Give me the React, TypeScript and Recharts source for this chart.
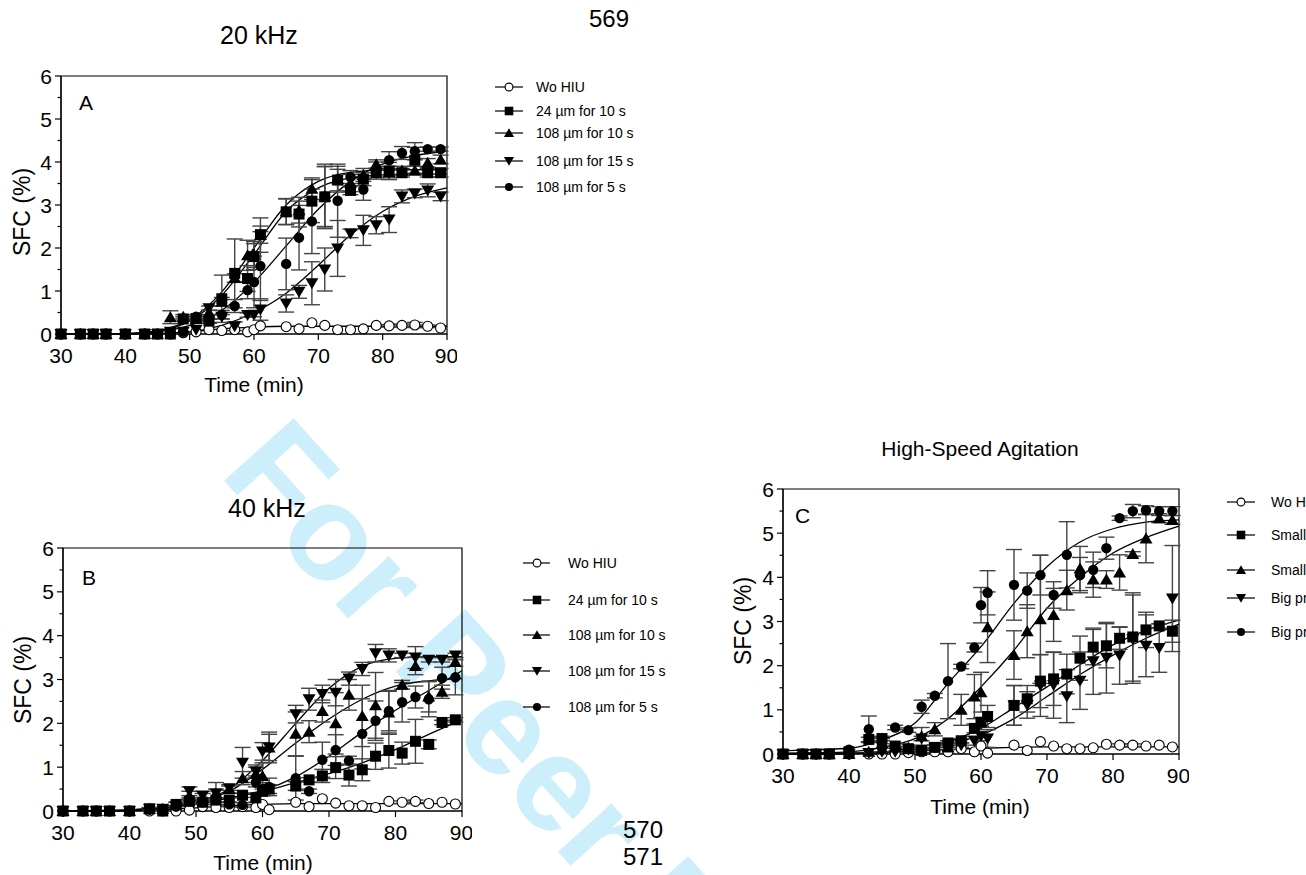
import React from 'react';
import { ComposedChart, XAxis, YAxis, Scatter, Line, ErrorBar, ReferenceArea } from 'recharts';

const FONT = '"Liberation Sans", Arial, sans-serif';

// --- sampling times (min) ---
const TIMES = [30, 33, 35, 37, 40, 43, 45, 47, 49, 51, 53, 55, 57, 59, 60, 61, 65, 67, 69, 71, 73, 75, 77, 79, 81, 83, 85, 87, 89];
const FIT_T = [30, 35, 40, 45, 50, 55, 60, 65, 70, 75, 80, 85, 90];
const X_TICKS = [30, 40, 50, 60, 70, 80, 90];
const Y_TICKS = [0, 0.5, 1, 1.5, 2, 2.5, 3, 3.5, 4, 4.5, 5, 5.5, 6];

const LABELS_HIU = ['Wo HIU', '24 µm for 10 s', '108 µm for 10 s', '108 µm for 15 s', '108 µm for 5 s'];
const LABELS_AGIT = ['Wo HIU', 'Small propeller A', 'Small propeller B', 'Big propeller A', 'Big propeller B'];

// --- Panel A: 20 kHz ---
const A_WO = [0, 0, 0, 0, 0, 0, 0, 0, 0.03, 0.05, 0.1, 0.08, 0.1, 0.05, 0.1, 0.19, 0.17, 0.12, 0.26, 0.2, 0.1, 0.1, 0.12, 0.2, 0.19, 0.2, 0.21, 0.18, 0.14];
const A_SQ = [0, 0, 0, 0, 0, 0, 0, 0, 0.35, 0.36, 0.3, 0.82, 1.41, 1.29, 1.8, 2.31, 2.84, 2.79, 3.09, 3.19, 3.58, 3.34, 3.6, 3.75, 3.79, 3.75, 4.04, 3.75, 3.75];
const A_UP = [0, 0, 0, 0, 0, 0, 0, 0.39, 0.4, 0.35, 0.5, 0.75, 1.3, 1.83, 1.85, 2.3, 2.85, 2.88, 3.38, 3.2, 3.6, 3.51, 3.7, 3.95, 3.75, 3.8, 3.8, 3.98, 4.06];
const A_DN = [0, 0, 0, 0, 0, 0, 0, 0.05, 0.05, 0.1, 0.6, 0.4, 0.18, 0.44, 0.45, 0.57, 0.71, 0.98, 1.18, 1.5, 1.99, 2.34, 2.41, 2.53, 2.66, 3.2, 3.27, 3.34, 3.2];
const A_CI = [0, 0, 0, 0, 0, 0, 0, 0, 0.05, 0.4, 0.3, 0.45, 0.65, 1.02, 1.21, 1.58, 1.63, 2.24, 2.62, 3.2, 3.1, 3.65, 3.36, 3.8, 4.04, 4.21, 4.25, 4.3, 4.3];
const A_WO_E = [0, 0, 0, 0, 0, 0, 0, 0, 0, 0, 0, 0, 0, 0, 0, 0, 0, 0, 0, 0, 0, 0, 0, 0, 0.03, 0.03, 0.06, 0.03, 0];
const A_SQ_E = [0, 0, 0, 0, 0, 0, 0, 0, 0.05, 0.05, 0.05, 0.55, 0.8, 0.3, 0.3, 0.2, 0.3, 0.3, 0.5, 0.7, 0.25, 0.1, 0.15, 0.1, 0.2, 0.1, 0.3, 0.1, 0.1];
const A_UP_E = [0, 0, 0, 0, 0, 0, 0, 0.15, 0.05, 0.05, 0.05, 0.1, 0.1, 0.35, 0.3, 0.4, 0.3, 0.3, 0.25, 0.7, 0.3, 0.2, 0.15, 0.1, 0.15, 0.1, 0.1, 0.1, 0.1];
const A_DN_E = [0, 0, 0, 0, 0, 0, 0, 0, 0, 0, 0.05, 0.05, 0.1, 0.05, 0.05, 0.25, 0.2, 0.15, 0.5, 0.5, 0.65, 0.1, 0.35, 0.2, 0.3, 0.15, 0.1, 0.15, 0.1];
const A_CI_E = [0, 0, 0, 0, 0, 0, 0, 0, 0, 0.05, 0.05, 0.1, 0.15, 0.2, 0.6, 0.8, 0.6, 0.75, 0.75, 0.75, 0.85, 0.15, 0.25, 0.2, 0.2, 0.15, 0.2, 0.05, 0.05];
const A_FIT_WO = [0, 0, 0, 0.01, 0.05, 0.12, 0.16, 0.18, 0.18, 0.18, 0.18, 0.18, 0.18];
const A_FIT_SQ = [0, 0, 0.01, 0.07, 0.3, 0.9, 1.85, 2.85, 3.4, 3.63, 3.7, 3.72, 3.72];
const A_FIT_UP = [0, 0, 0.01, 0.08, 0.33, 0.98, 2.0, 3.0, 3.55, 3.76, 3.81, 3.82, 3.82];
const A_FIT_DN = [0, 0, 0, 0.01, 0.05, 0.2, 0.5, 0.95, 1.6, 2.3, 2.85, 3.2, 3.4];
const A_FIT_CI = [0, 0, 0.01, 0.05, 0.2, 0.55, 1.2, 2.05, 2.9, 3.55, 3.95, 4.15, 4.25];

// --- Panel B: 40 kHz ---
const B_WO = [0, 0, 0, 0, 0, 0, 0, 0, 0.02, 0.1, 0.08, 0.08, 0.1, 0.08, 0.15, 0.03, 0.2, 0.1, 0.28, 0.18, 0.12, 0.12, 0.08, 0.22, 0.2, 0.22, 0.17, 0.2, 0.16];
const B_SQ = [0, 0, 0, 0, 0, 0.05, 0, 0.15, 0.22, 0.2, 0.25, 0.25, 0.36, 0.3, 0.45, 0.5, 0.57, 0.71, 0.8, 0.99, 0.82, 0.94, 1.25, 1.38, 1.32, 1.59, 1.52, 2.02, 2.08];
const B_UP = [0, 0, 0, 0, 0, 0.05, 0.05, 0.15, 0.35, 0.3, 0.4, 0.5, 0.75, 0.85, 0.8, 1.45, 1.76, 1.81, 2.28, 2.0, 2.65, 2.17, 2.41, 2.25, 2.88, 3.31, 2.61, 2.72, 3.4];
const B_DN = [0, 0, 0, 0, 0, 0.05, 0.05, 0.1, 0.45, 0.35, 0.4, 0.52, 1.1, 0.9, 1.36, 1.45, 2.21, 2.55, 2.67, 2.7, 3.02, 3.24, 3.6, 3.55, 3.55, 3.5, 3.45, 3.45, 3.55];
const B_CI = [0, 0, 0, 0, 0, 0.03, 0.03, 0.1, 0.25, 0.2, 0.25, 0.15, 0.14, 0.65, 0.5, 0.55, 0.75, 0.45, 1.17, 1.39, 1.15, 1.76, 2.06, 2.28, 2.48, 2.6, 2.55, 3.03, 3.05];
const B_WO_E = [0, 0, 0, 0, 0, 0, 0, 0, 0, 0, 0, 0, 0, 0, 0, 0, 0, 0, 0, 0, 0, 0, 0, 0, 0.03, 0.03, 0, 0, 0];
const B_SQ_E = [0, 0, 0, 0, 0, 0.03, 0, 0.05, 0.05, 0.05, 0.05, 0.05, 0.05, 0.1, 0.1, 0.1, 0.1, 0.05, 0.15, 0.25, 0.25, 0.25, 0.3, 0.4, 0.25, 0.5, 0.1, 0.05, 0.05];
const B_UP_E = [0, 0, 0, 0, 0, 0, 0, 0, 0.1, 0.1, 0.1, 0.1, 0.15, 0.2, 0.3, 0.3, 0.5, 0.25, 0.25, 0.7, 0.35, 0.7, 0.75, 0.5, 0.1, 0.2, 0.35, 0.15, 0.1];
const B_DN_E = [0, 0, 0, 0, 0, 0, 0, 0, 0.1, 0.1, 0.25, 0.05, 0.35, 0.1, 0.2, 0.35, 0.2, 0.25, 0.2, 0.3, 0.15, 0.15, 0.2, 0.15, 0.05, 0.25, 0.05, 0.05, 0.05];
const B_CI_E = [0, 0, 0, 0, 0, 0, 0, 0, 0.05, 0.05, 0.05, 0.05, 0.05, 0.1, 0.15, 0.2, 0.5, 0.05, 0.4, 0.35, 0.1, 0.8, 0.45, 0.45, 0.45, 0.25, 0.4, 0.25, 0.4];
const B_FIT_WO = [0, 0, 0.01, 0.03, 0.07, 0.12, 0.15, 0.17, 0.17, 0.17, 0.17, 0.17, 0.17];
const B_FIT_SQ = [0, 0.01, 0.03, 0.1, 0.2, 0.3, 0.45, 0.65, 0.85, 1.1, 1.4, 1.75, 2.08];
const B_FIT_UP = [0, 0.01, 0.02, 0.07, 0.2, 0.45, 0.95, 1.55, 2.1, 2.55, 2.85, 2.97, 3.02];
const B_FIT_DN = [0, 0, 0.01, 0.06, 0.2, 0.5, 1.15, 2.0, 2.8, 3.3, 3.48, 3.52, 3.52];
const B_FIT_CI = [0, 0, 0.01, 0.05, 0.15, 0.3, 0.47, 0.78, 1.25, 1.8, 2.3, 2.75, 3.2];

// --- Panel C: high-speed agitation ---
const C_WO = [0, 0, 0, 0, 0, 0, 0, 0, 0.03, 0.05, 0.05, 0.05, 0.12, 0.05, 0.18, 0.02, 0.2, 0.08, 0.28, 0.18, 0.12, 0.12, 0.14, 0.22, 0.2, 0.2, 0.18, 0.2, 0.16];
const C_SQ = [0, 0, 0, 0, 0.05, 0.33, 0.35, 0.18, 0.12, 0.08, 0.15, 0.25, 0.3, 0.58, 0.72, 0.85, 1.1, 1.25, 1.65, 1.7, 1.81, 2.17, 2.42, 2.45, 2.62, 2.65, 2.81, 2.9, 2.78];
const C_UP = [0, 0, 0, 0, 0, 0.05, 0.1, 0.15, 0.15, 0.4, 0.56, 0.15, 1.0, 1.3, 1.4, 2.87, 2.24, 2.78, 3.05, 3.15, 3.71, 4.2, 3.95, 3.95, 4.11, 4.53, 4.88, 5.34, 5.3];
const C_DN = [0, 0, 0, 0, 0, 0.02, 0.05, 0.05, 0.1, 0.35, 0.15, 0.2, 0.2, 0.3, 0.4, 0.35, 1.1, 1.11, 1.55, 1.56, 1.31, 1.66, 2.1, 2.18, 2.23, 2.6, 2.45, 2.4, 3.52];
const C_CI = [0, 0, 0, 0, 0.1, 0.56, 0.2, 0.6, 0.54, 1.07, 1.32, 1.65, 1.98, 2.41, 3.37, 3.65, 3.83, 3.7, 4.05, 3.6, 4.51, 4.05, 4.17, 4.66, 5.34, 5.5, 5.52, 5.5, 5.5];
const C_WO_E = [0, 0, 0, 0, 0, 0, 0, 0, 0, 0, 0, 0, 0, 0, 0, 0, 0, 0, 0, 0, 0, 0, 0, 0, 0.03, 0.03, 0, 0, 0];
const C_SQ_E = [0, 0, 0, 0, 0, 0.05, 0.05, 0.05, 0.05, 0.05, 0.05, 0.05, 0.05, 0.1, 0.1, 0.25, 0.45, 0.3, 0.6, 0.6, 0.45, 0.5, 0.4, 0.5, 0.25, 1.0, 0.4, 0.05, 0.25];
const C_UP_E = [0, 0, 0, 0, 0, 0, 0, 0, 0, 0.2, 0.15, 0.05, 0.35, 0.5, 0.45, 0.8, 0.55, 0.6, 1.45, 0.6, 0.45, 0.5, 0.4, 0.2, 0.4, 0.05, 0.55, 0.1, 0.1];
const C_DN_E = [0, 0, 0, 0, 0, 0, 0, 0, 0, 0.05, 0.05, 0.05, 0.05, 0.1, 0.1, 0.2, 0.45, 0.3, 0.7, 0.75, 0.6, 0.65, 0.75, 0.8, 0.65, 1.0, 0.7, 0.55, 1.2];
const C_CI_E = [0, 0, 0, 0, 0, 0.3, 0.15, 0.05, 0.05, 0.15, 0.05, 0.85, 0.05, 0.1, 0.4, 0.5, 0.8, 0.4, 0.45, 0.3, 0.75, 0.4, 0.4, 0.25, 0.05, 0.15, 0.1, 0.1, 0.1];
const C_FIT_WO = [0, 0, 0.01, 0.03, 0.06, 0.1, 0.13, 0.15, 0.16, 0.16, 0.16, 0.16, 0.16];
const C_FIT_SQ = [0, 0.01, 0.02, 0.05, 0.15, 0.28, 0.58, 1.05, 1.52, 2.02, 2.47, 2.8, 3.03];
const C_FIT_UP = [0.02, 0.03, 0.05, 0.15, 0.35, 0.8, 1.52, 2.35, 3.3, 4.0, 4.55, 4.9, 5.16];
const C_FIT_DN = [0, 0, 0.01, 0.03, 0.1, 0.22, 0.43, 0.8, 1.3, 1.8, 2.24, 2.62, 2.94];
const C_FIT_CI = [0.07, 0.1, 0.13, 0.32, 0.7, 1.6, 2.43, 3.41, 4.24, 4.8, 5.1, 5.25, 5.3];

const KINDS = ['open', 'square', 'up', 'down', 'dot'];

const pts = (vals: number[], errs: number[]) => TIMES.map((x, i) => ({ x, y: vals[i], err: errs[i] }));
const fitPts = (vals: number[]) => FIT_T.map((x, i) => ({ x, y: vals[i] }));

// --- Markers ---
function Marker({ cx, cy, kind, s = 1 }: { cx: number; cy: number; kind: string; s?: number }) {
  if (cx == null || cy == null) return null;
  switch (kind) {
    case 'open':
      return <circle cx={cx} cy={cy} r={5 * s} fill="#fff" stroke="#000" strokeWidth={1.1} />;
    case 'square':
      return <rect x={cx - 5.5 * s} y={cy - 5.5 * s} width={11 * s} height={11 * s} fill="#000" />;
    case 'up':
      return <polygon points={`${cx},${cy - 6 * s} ${cx + 6.5 * s},${cy + 5 * s} ${cx - 6.5 * s},${cy + 5 * s}`} fill="#000" />;
    case 'down':
      return <polygon points={`${cx},${cy + 6 * s} ${cx + 6.5 * s},${cy - 5 * s} ${cx - 6.5 * s},${cy - 5 * s}`} fill="#000" />;
    default:
      return <circle cx={cx} cy={cy} r={5.2 * s} fill="#000" />;
  }
}

function YTick({ x, y, payload }: any) {
  const major = Number.isInteger(payload.value);
  const ax = x + 9;
  return (
    <g>
      <line x1={ax - (major ? 6 : 3.5)} x2={ax} y1={y} y2={y} stroke="#000" strokeWidth={1.2} />
      {major && (
        <text x={x} y={y} dy="0.36em" textAnchor="end" fontSize={21} fontFamily={FONT} fill="#000">
          {payload.value}
        </text>
      )}
    </g>
  );
}

interface PanelProps {
  left: number;
  top: number;
  w: number;
  h: number;
  series: { x: number; y: number; err: number }[][];
  fits: { x: number; y: number }[][];
}

function Panel({ left, top, w, h, series, fits }: PanelProps) {
  const ML = 60, MT = 10, MR = 10, MB = 40;
  return (
    <div style={{ position: 'absolute', left: left - ML, top: top - MT }}>
      <ComposedChart width={w + ML + MR} height={h + MT + MB} margin={{ top: MT, right: MR, bottom: 0, left: 0 }}>
        <XAxis
          type="number"
          dataKey="x"
          domain={[30, 90]}
          ticks={X_TICKS}
          height={MB}
          tickSize={6}
          tickMargin={8}
          stroke="#000"
          strokeWidth={1.2}
          tick={{ fill: '#000', fontSize: 21, fontFamily: FONT }}
        />
        <YAxis
          type="number"
          dataKey="y"
          domain={[0, 6]}
          ticks={Y_TICKS}
          width={ML}
          tickSize={6}
          tickMargin={3}
          tickLine={false}
          tick={YTick}
          stroke="#000"
          strokeWidth={1.2}
          interval={0}
        />
        <ReferenceArea x1={30} x2={90} y1={0} y2={6} fill="none" stroke="#000" strokeWidth={1.2} />
        {fits.map((f, i) => (
          <Line key={`fit-${i}`} data={f} dataKey="y" type="monotone" stroke="#000" strokeWidth={1.3} dot={false} isAnimationActive={false} />
        ))}
        {series.map((s, i) => (
          <Scatter
            key={`s-${i}`}
            data={s}
            isAnimationActive={false}
            shape={(p: any) => <Marker cx={p.cx} cy={p.cy} kind={KINDS[i]} />}
          >
            <ErrorBar dataKey="err" direction="y" width={8} stroke="#444" strokeWidth={1.4} />
          </Scatter>
        ))}
      </ComposedChart>
    </div>
  );
}

function Txt({ x, y, size, children, center = false, rotate = false, family = FONT }: any) {
  const tf = rotate ? 'translate(-50%, -50%) rotate(-90deg)' : center ? 'translate(-50%, -50%)' : 'translateY(-50%)';
  return (
    <div
      style={{
        position: 'absolute',
        left: x,
        top: y,
        fontSize: size,
        lineHeight: `${size}px`,
        fontFamily: family,
        whiteSpace: 'nowrap',
        color: '#000',
        transform: tf,
      }}
    >
      {children}
    </div>
  );
}

function LegendBox({ x0, mx, x1, tx, rows, labels }: { x0: number; mx: number; x1: number; tx: number; rows: number[]; labels: string[] }) {
  return (
    <>
      {rows.map((ry, i) => (
        <React.Fragment key={i}>
          <svg style={{ position: 'absolute', left: x0, top: ry - 8 }} width={x1 - x0} height={16}>
            <line x1={0} x2={x1 - x0} y1={8} y2={8} stroke="#000" strokeWidth={1.2} />
            <Marker cx={mx - x0} cy={8} kind={KINDS[i]} s={0.78} />
          </svg>
          <Txt x={tx} y={ry} size={14}>{labels[i]}</Txt>
        </React.Fragment>
      ))}
    </>
  );
}

export default function App() {
  const seriesA = [pts(A_WO, A_WO_E), pts(A_SQ, A_SQ_E), pts(A_UP, A_UP_E), pts(A_DN, A_DN_E), pts(A_CI, A_CI_E)];
  const fitsA = [A_FIT_WO, A_FIT_SQ, A_FIT_UP, A_FIT_DN, A_FIT_CI].map(fitPts);
  const seriesB = [pts(B_WO, B_WO_E), pts(B_SQ, B_SQ_E), pts(B_UP, B_UP_E), pts(B_DN, B_DN_E), pts(B_CI, B_CI_E)];
  const fitsB = [B_FIT_WO, B_FIT_SQ, B_FIT_UP, B_FIT_DN, B_FIT_CI].map(fitPts);
  const seriesC = [pts(C_WO, C_WO_E), pts(C_SQ, C_SQ_E), pts(C_UP, C_UP_E), pts(C_DN, C_DN_E), pts(C_CI, C_CI_E)];
  const fitsC = [C_FIT_WO, C_FIT_SQ, C_FIT_UP, C_FIT_DN, C_FIT_CI].map(fitPts);

  return (
    <div style={{ position: 'absolute', left: 0, top: 0, width: 1306, height: 875, overflow: 'hidden', background: '#fff' }}>
      {/* watermark */}
      <svg style={{ position: 'absolute', left: 0, top: 0 }} width={1306} height={875}>
        <text x={218} y={474} fontSize={136} fontWeight={700} fontFamily={FONT} fill="#cdeefb" transform="rotate(48 218 474)">
          For Peer Review
        </text>
      </svg>

      {/* page text */}
      <Txt x={220} y={35} size={25}>20 kHz</Txt>
      <Txt x={589} y={19} size={24}>569</Txt>
      <Txt x={228} y={508} size={25}>40 kHz</Txt>
      <Txt x={623} y={830} size={24}>570</Txt>
      <Txt x={623} y={857} size={24}>571</Txt>
      <Txt x={980} y={448} size={21} center>High-Speed Agitation</Txt>

      {/* Panel A */}
      <Panel left={61} top={76} w={386} h={258} series={seriesA} fits={fitsA} />
      <Txt x={79} y={102} size={21}>A</Txt>
      <Txt x={22} y={212} size={23} rotate>SFC (%)</Txt>
      <Txt x={254} y={384} size={21} center>Time (min)</Txt>
      <LegendBox x0={495} mx={509} x1={523} tx={536} rows={[87, 111, 133, 161, 187]} labels={LABELS_HIU} />

      {/* Panel B */}
      <Panel left={63} top={548} w={399} h={263} series={seriesB} fits={fitsB} />
      <Txt x={82} y={577} size={21}>B</Txt>
      <Txt x={23} y={680} size={23} rotate>SFC (%)</Txt>
      <Txt x={263} y={862} size={21} center>Time (min)</Txt>
      <LegendBox x0={523} mx={537} x1={550} tx={568} rows={[563, 600, 635, 671, 707]} labels={LABELS_HIU} />

      {/* Panel C */}
      <Panel left={783} top={489} w={396} h={265} series={seriesC} fits={fitsC} />
      <Txt x={795} y={515} size={21}>C</Txt>
      <Txt x={743} y={621} size={23} rotate>SFC (%)</Txt>
      <Txt x={980} y={806} size={21} center>Time (min)</Txt>
      <LegendBox x0={1227} mx={1241} x1={1255} tx={1271} rows={[502, 535, 570, 598, 632]} labels={LABELS_AGIT} />
    </div>
  );
}
